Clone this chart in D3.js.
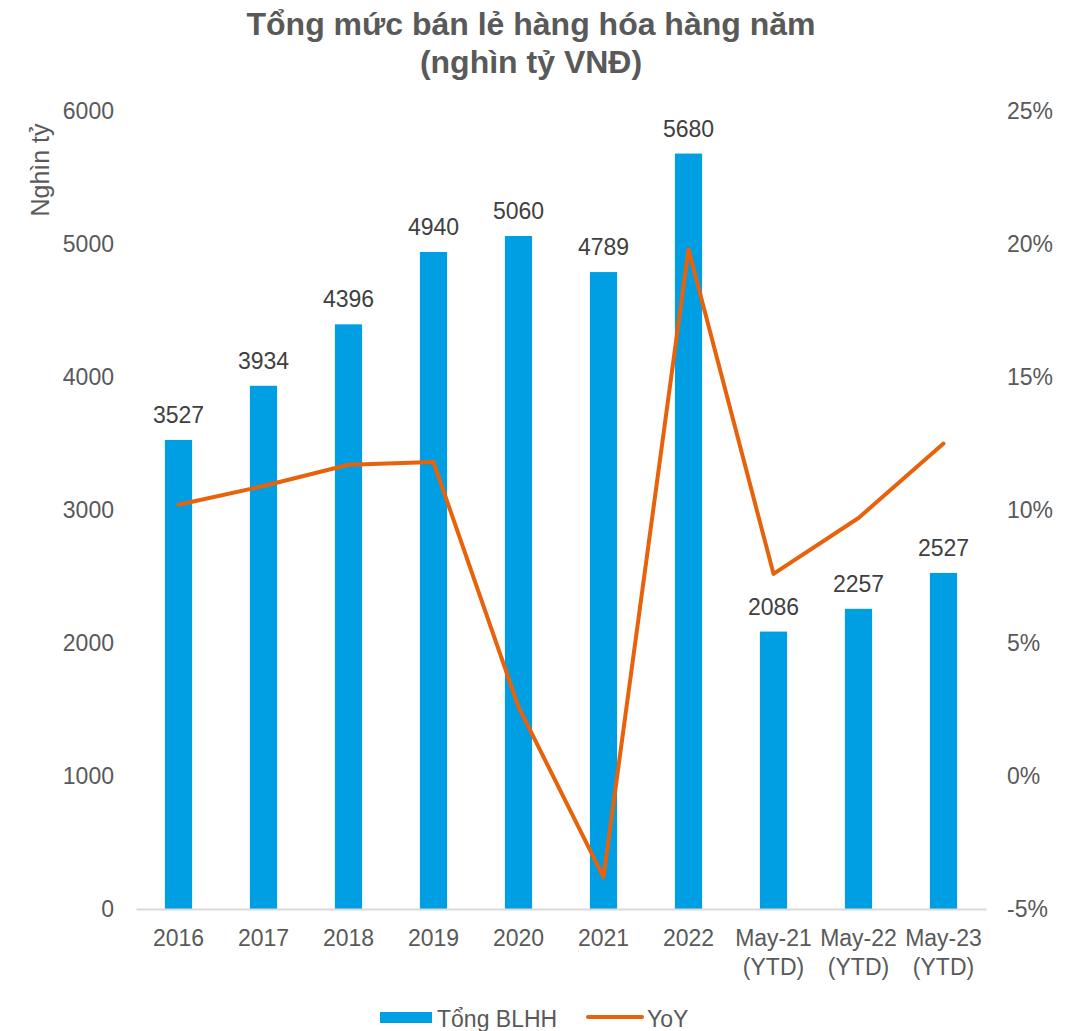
<!DOCTYPE html>
<html>
<head>
<meta charset="utf-8">
<script src="https://cdn.jsdelivr.net/npm/d3@7"></script>
<style>
  html, body { margin: 0; padding: 0; background: #fff; }
  svg { display: block; font-family: "Liberation Sans", Arial, sans-serif; }
</style>
</head>
<body>
<svg id="chart" width="1082" height="1031"></svg>
<script>
// Annual retail sales of goods (thousand billion VND) and year-over-year growth
const categories = ["2016", "2017", "2018", "2019", "2020", "2021", "2022",
                    "May-21\n(YTD)", "May-22\n(YTD)", "May-23\n(YTD)"];
const salesValues = [3527, 3934, 4396, 4940, 5060, 4789, 5680, 2086, 2257, 2527];
const yoyValues = [10.2, 10.9, 11.7, 11.8, 2.6, -3.8, 19.8, 7.6, 9.7, 12.5];
const leftTicks = [0, 1000, 2000, 3000, 4000, 5000, 6000];
const rightTicks = [-5, 0, 5, 10, 15, 20, 25];

const titleLines = ["Tổng mức bán lẻ hàng hóa hàng năm", "(nghìn tỷ VNĐ)"];
const leftAxisTitle = "Nghìn tỷ";
const seriesNames = ["Tổng BLHH", "YoY"];

const barColor = "#009FE3";
const lineColor = "#E8620C";
const textColor = "#595959";

const svg = d3.select("#chart");

const plot = { left: 136, right: 986, top: 111, bottom: 909 };

const x = d3.scaleBand()
  .domain(categories)
  .range([plot.left, plot.right])
  .paddingInner(0.68)
  .paddingOuter(0.34);

const yLeft = d3.scaleLinear().domain([0, 6000]).range([plot.bottom, plot.top]);
const yRight = d3.scaleLinear().domain([-5, 25]).range([plot.bottom, plot.top]);

// Title
svg.append("g")
  .selectAll("text")
  .data(titleLines)
  .join("text")
  .attr("x", 531)
  .attr("y", (d, i) => 35 + i * 38)
  .attr("text-anchor", "middle")
  .attr("font-size", 32)
  .attr("font-weight", "bold")
  .attr("fill", textColor)
  .text(d => d);

// Left axis (labels only)
const leftAxis = d3.axisLeft(yLeft).tickValues(leftTicks).tickSize(0).tickPadding(22).tickFormat(d3.format("d"));
const gl = svg.append("g").attr("transform", `translate(${plot.left},0)`).call(leftAxis);
gl.select(".domain").remove();
gl.selectAll("text").attr("font-size", 23).attr("fill", textColor).attr("font-family", "Liberation Sans, Arial, sans-serif");

// Right axis (labels only)
const rightAxis = d3.axisRight(yRight).tickValues(rightTicks).tickSize(0).tickPadding(21).tickFormat(d => d + "%");
const gr = svg.append("g").attr("transform", `translate(${plot.right},0)`).call(rightAxis);
gr.select(".domain").remove();
gr.selectAll("text").attr("font-size", 23).attr("fill", textColor).attr("font-family", "Liberation Sans, Arial, sans-serif");

// Left axis title
svg.append("text")
  .attr("transform", "translate(49,170) rotate(-90)")
  .attr("text-anchor", "middle")
  .attr("font-size", 25)
  .attr("fill", textColor)
  .text(leftAxisTitle);

// Bars
svg.append("g")
  .selectAll("rect")
  .data(salesValues)
  .join("rect")
  .attr("x", (d, i) => x(categories[i]))
  .attr("y", d => yLeft(d))
  .attr("width", x.bandwidth())
  .attr("height", d => yLeft(0) - yLeft(d))
  .attr("fill", barColor);

// Bar value labels
svg.append("g")
  .selectAll("text")
  .data(salesValues)
  .join("text")
  .attr("x", (d, i) => x(categories[i]) + x.bandwidth() / 2)
  .attr("y", d => yLeft(d) - 17)
  .attr("text-anchor", "middle")
  .attr("font-size", 23)
  .attr("fill", "#404040")
  .text(d => d);

// Category axis
const xAxis = d3.axisBottom(x).tickSize(0).tickPadding(0).tickFormat("");
const gx = svg.append("g").attr("transform", `translate(0,${plot.bottom})`).call(xAxis);
gx.select(".domain").attr("stroke", "#D9D9D9").attr("stroke-width", 2);
gx.selectAll(".tick").each(function (d) {
  const t = d3.select(this).append("text")
    .attr("text-anchor", "middle")
    .attr("font-size", 23)
    .attr("fill", textColor)
    .attr("font-family", "Liberation Sans, Arial, sans-serif");
  d.split("\n").forEach((line, i) => {
    t.append("tspan").attr("x", 0).attr("y", 37 + i * 29).text(line);
  });
});

// YoY line
const line = d3.line()
  .x((d, i) => x(categories[i]) + x.bandwidth() / 2)
  .y(d => yRight(d));

svg.append("path")
  .datum(yoyValues)
  .attr("d", line)
  .attr("fill", "none")
  .attr("stroke", lineColor)
  .attr("stroke-width", 4)
  .attr("stroke-linejoin", "round")
  .attr("stroke-linecap", "round");

// Legend
const legend = svg.append("g");
legend.append("rect")
  .attr("x", 380).attr("y", 1012).attr("width", 52).attr("height", 11)
  .attr("fill", barColor);
legend.append("text")
  .attr("x", 437).attr("y", 1027)
  .attr("font-size", 23).attr("fill", textColor)
  .text(seriesNames[0]);
legend.append("line")
  .attr("x1", 588).attr("x2", 642).attr("y1", 1017).attr("y2", 1017)
  .attr("stroke", lineColor).attr("stroke-width", 4).attr("stroke-linecap", "round");
legend.append("text")
  .attr("x", 647).attr("y", 1027)
  .attr("font-size", 23).attr("fill", textColor)
  .text(seriesNames[1]);
</script>
</body>
</html>
